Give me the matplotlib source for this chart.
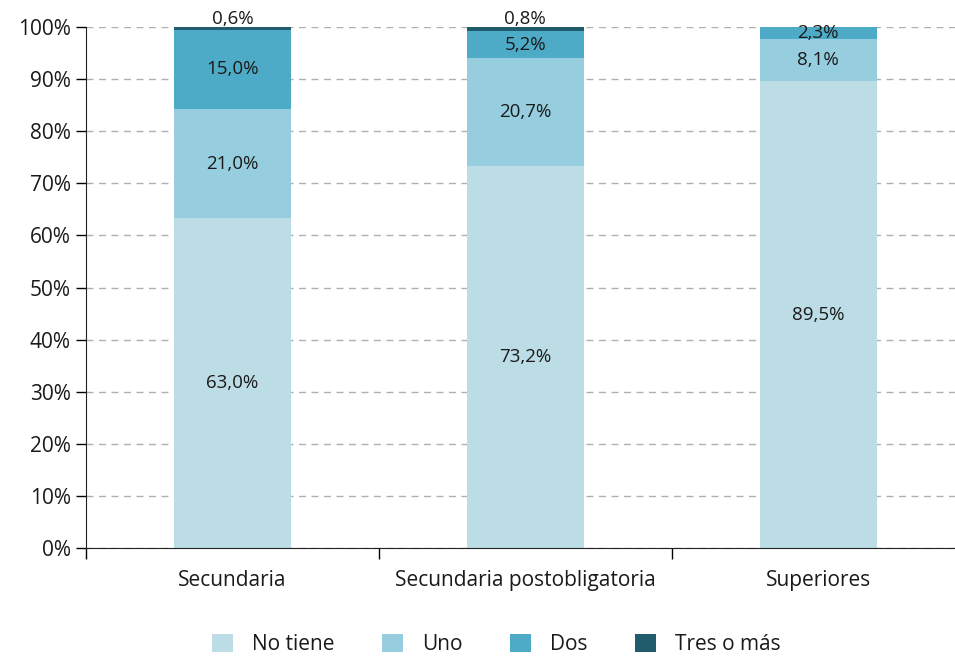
import numpy as np
import matplotlib.pyplot as plt

plt.rcParams['font.family'] = ['Open Sans', 'DejaVu Sans']
plt.rcParams['text.color'] = '#1a1a1a'

categorias = ['Secundaria', 'Secundaria postobligatoria', 'Superiores']
series = ['No tiene', 'Uno', 'Dos', 'Tres o más']
no_tiene = [63.0, 73.2, 89.5]
uno = [21.0, 20.7, 8.1]
dos = [15.0, 5.2, 2.3]
tres = [0.6, 0.8, 0.0]
colores = ['#bcdde5', '#96cddf', '#4eabc7', '#215c6c']

fig = plt.figure(figsize=(9.55, 6.58), dpi=100)
ax = fig.add_axes([0.09, 0.167, 0.92, 0.792])

datos = np.array([no_tiene, uno, dos, tres])
# 100% apilado: cada barra llega al 100%
alturas = datos / datos.sum(axis=0) * 100

x = np.arange(len(categorias))
base = np.zeros(len(categorias))
for nombre, vals, alt, col in zip(series, datos, alturas, colores):
    ax.bar(x, alt, 0.4, bottom=base, color=col, label=nombre, zorder=2)
    for xi, b, v, h in zip(x, base, vals, alt):
        if v <= 0:
            continue
        txt = f'{v:.1f}%'.replace('.', ',')
        if v < 1:
            ax.text(xi, 101.6, txt, ha='center', va='center', fontsize=13.5, clip_on=False)
        else:
            ax.text(xi, b + h / 2, txt, ha='center', va='center', fontsize=13.5)
    base = base + alt

ax.set_xlim(-0.5, 2.5)
ax.set_ylim(0, 100)
ax.set_yticks(np.arange(0, 101, 10))
ax.set_yticklabels([f'{t}%' for t in range(0, 101, 10)], fontsize=15)
ax.set_xticks(x)
ax.set_xticklabels(categorias, fontsize=15)
ax.tick_params(axis='x', length=0, pad=16, labelcolor='#1a1a1a')
ax.set_xticks([-0.5, 0.5, 1.5, 2.5], minor=True)
ax.tick_params(axis='x', which='minor', length=8, width=1, direction='out')
ax.tick_params(axis='y', length=7, width=1, direction='out', pad=4, labelcolor='#1a1a1a')
ax.yaxis.grid(True, linestyle=(0, (5, 4)), color='#b0b0b0', linewidth=1, zorder=0)
ax.set_axisbelow(True)
for s in ['top', 'right']:
    ax.spines[s].set_visible(False)
ax.spines['left'].set_color('#222222')
ax.spines['bottom'].set_color('#222222')

fig.legend(loc='lower center', bbox_to_anchor=(0.52, -0.024), ncol=4, frameon=False,
           fontsize=15, handlelength=1.0, handleheight=1.0, columnspacing=2.3, handletextpad=0.9)

fig.savefig('out.png', dpi=100)
